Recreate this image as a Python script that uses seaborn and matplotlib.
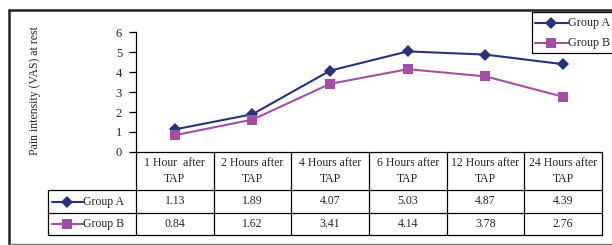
import numpy as np
import pandas as pd
import matplotlib
matplotlib.use("Agg")
import matplotlib.pyplot as plt
from matplotlib.lines import Line2D
from matplotlib.patches import Rectangle
import matplotlib.transforms as mtransforms
import seaborn as sns

times = ["1 Hour  after\nTAP", "2 Hours after\nTAP", "4 Hours after\nTAP",
         "6 Hours after\nTAP", "12 Hours after\nTAP", "24 Hours after\nTAP"]
group_a = [1.13, 1.89, 4.07, 5.03, 4.87, 4.39]
group_b = [0.84, 1.62, 3.41, 4.14, 3.78, 2.76]
groups = ["Group A", "Group B"]
yticks = [0, 1, 2, 3, 4, 5, 6]
ylabel = "Pain intensity (VAS) at rest"

col_a = "#26337A"
col_b = "#A44FA6"

sns.set_style("white")
plt.rcParams["font.family"] = ["Liberation Serif", "DejaVu Serif"]

W, H = 612, 245
fig = plt.figure(figsize=(W / 100, H / 100), dpi=100)

def fx(px):
    return px / W

def fy(py):
    return 1 - py / H

ax_left, ax_right, ax_top, ax_bot = 136, 602, 32, 152
ax = fig.add_axes([fx(ax_left), fy(ax_bot), fx(ax_right - ax_left), (ax_bot - ax_top) / H])

n = len(times)
df = pd.DataFrame({
    "pos": list(range(n)) * 2,
    "value": group_a + group_b,
    "group": [groups[0]] * n + [groups[1]] * n,
})
ms = 6.5
sns.lineplot(data=df, x="pos", y="value", hue="group", style="group",
             markers={"Group A": "D", "Group B": "s"}, dashes=False,
             palette={"Group A": col_a, "Group B": col_b},
             linewidth=1.5, markersize=ms, markeredgewidth=0, ax=ax, legend=False)

ax.set_xlim(-0.5, n - 0.5)
ax.set_ylim(0, 6)
ax.set_yticks(yticks)
ax.set_xticks([])
ax.set_xlabel("")
ax.set_ylabel("")
for s in ["top", "right"]:
    ax.spines[s].set_visible(False)
for s in ["left", "bottom"]:
    ax.spines[s].set_color("black")
    ax.spines[s].set_linewidth(0.9)
ax.tick_params(axis="y", left=True, length=5, width=0.9, labelsize=9, pad=5, color="black")

fig.text(fx(35), fy(91), ylabel, rotation=90, ha="center", va="center", fontsize=8.5)

# table (drawn in axes-blended coords: x in data, y in axes fraction)
trans = mtransforms.blended_transform_factory(ax.transData, ax.transAxes)
colw = (ax_right - ax_left) / n

def ya(py):
    return (ax_bot - py) / (ax_bot - ax_top)

def xd(px):
    return -0.5 + (px - ax_left) / colw

fs = 8.5
row_top, row_a, row_b, row_end = 152, 190, 213, 235
lab_left = 48
kw = dict(transform=trans, color="black", linewidth=0.9, clip_on=False)
for py in [row_a, row_b, row_end]:
    ax.add_line(Line2D([xd(lab_left), n - 0.5], [ya(py), ya(py)], **kw))
for i in range(n + 1):
    ax.add_line(Line2D([i - 0.5, i - 0.5], [ya(row_top), ya(row_end)], **kw))
ax.add_line(Line2D([xd(lab_left), xd(lab_left)], [ya(row_a), ya(row_end)], **kw))

for i, t in enumerate(times):
    ax.text(i, ya((row_top + row_a) / 2), t, transform=trans, ha="center", va="center",
            fontsize=fs, linespacing=1.4, clip_on=False)
    ax.text(i, ya((row_a + row_b) / 2), f"{group_a[i]:.2f}", transform=trans,
            ha="center", va="center", fontsize=fs, clip_on=False)
    ax.text(i, ya((row_b + row_end) / 2), f"{group_b[i]:.2f}", transform=trans,
            ha="center", va="center", fontsize=fs, clip_on=False)

for g, c, m, (y0, y1) in [(groups[0], col_a, "D", (row_a, row_b)),
                          (groups[1], col_b, "s", (row_b, row_end))]:
    yc = ya((y0 + y1) / 2)
    ax.add_line(Line2D([xd(52), xd(83)], [yc, yc], transform=trans, color=c,
                       linewidth=1.5, clip_on=False))
    ax.add_line(Line2D([xd(67)], [yc], transform=trans, color=c, marker=m,
                       markersize=ms, markeredgewidth=0, linestyle="none", clip_on=False))
    ax.text(xd(83.5), yc, g, transform=trans, ha="left", va="center", fontsize=fs, clip_on=False)

# legend (drawn as figure artists)
fig.add_artist(Rectangle((fx(532), fy(53)), fx(616 - 532), (53 - 12) / H,
                         facecolor="white", edgecolor="black", linewidth=0.9))
for g, c, m, py in [(groups[0], col_a, "D", 23), (groups[1], col_b, "s", 43)]:
    fig.add_artist(Line2D([fx(535), fx(568)], [fy(py), fy(py)], color=c, linewidth=1.5))
    fig.add_artist(Line2D([fx(551)], [fy(py)], color=c, marker=m, markersize=ms,
                          markeredgewidth=0, linestyle="none"))
    fig.text(fx(568.5), fy(py), g, ha="left", va="center", fontsize=8.7)

# outer frame
fig.add_artist(Line2D([fx(9), fx(9)], [fy(10), fy(244)], color="#222222", linewidth=1.8))
fig.add_artist(Line2D([fx(9), 1], [fy(10), fy(10)], color="#222222", linewidth=1.8))
fig.add_artist(Line2D([fx(9), 1], [fy(243.5), fy(243.5)], color="#777777", linewidth=1.0))

fig.savefig("out.png", dpi=100)
